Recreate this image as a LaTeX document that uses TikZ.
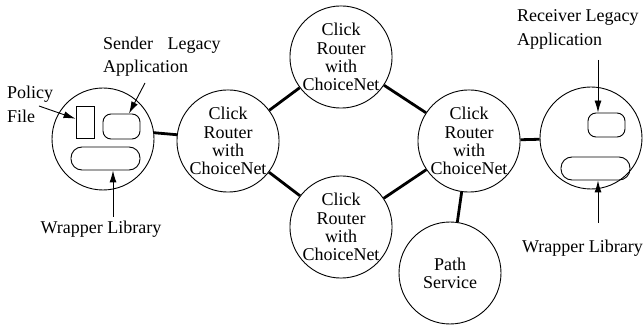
\documentclass[tikz,border=0pt]{standalone}
\usepackage{fontspec}
\setmainfont{Liberation Serif}
\usetikzlibrary{arrows.meta}

\begin{document}
\begin{tikzpicture}[x=1pt, y=-1pt, >={Latex[length=12pt,width=7pt]},
  every node/.style={font=\fontsize{18}{18.3}\selectfont},
  router/.style={draw, circle, minimum size=102pt, inner sep=0pt, align=center, line width=0.9pt},
  box/.style={draw, rounded corners=8pt, line width=0.9pt, inner sep=0pt},
  lbl/.style={align=left, anchor=west, inner sep=0pt, font=\fontsize{18}{23.5}\selectfont},
  link/.style={line width=2.8pt},
  arr/.style={->, line width=0.9pt}]

\useasboundingbox (0,0) rectangle (643,331);

% hosts
\node[router] (shost) at (103,139) {};
\node[router] (rhost) at (591,138) {};

% routers
\node[router] (r1) at (228,141) {Click\\Router\\with\\ChoiceNet};
\node[router] (r2) at (341,57) {Click\\Router\\with\\ChoiceNet};
\node[router] (r3) at (341,227) {Click\\Router\\with\\ChoiceNet};
\node[router] (r4) at (469,141) {Click\\Router\\with\\ChoiceNet};
\node[router] (ps) at (450,273) {Path\\Service};

% links
\draw[link] (shost.7) -- (r1.173);
\draw[link] (r4) -- (rhost);
\foreach \a/\b in {r1/r2, r1/r3, r2/r4, r3/r4, r4/ps} {
  \draw[link] (\a) -- (\b);
}

% sender side
\node[draw, line width=0.9pt, minimum width=18pt, minimum height=32pt, inner sep=0pt] (policy) at (85,122) {};
\node[box, minimum width=37pt, minimum height=25pt] (sapp) at (121.5,126.5) {};
\node[box, rounded corners=11pt, minimum width=69pt, minimum height=23pt] (slib) at (105.5,158.5) {};

\node[lbl] (policylbl) at (7,104.5) {Policy\\File};
\node[lbl] (senderlbl) at (103,56.5) {Sender\hspace{10pt} Legacy\\Application};
\node[inner sep=0pt] (slibl) at (101,229) {Wrapper Library};

\coordinate (pa) at (39,106);
\coordinate (sa) at (145,83);
\coordinate (wa) at (113,217);
\draw[arr] (pa) -- (policy);
\draw[arr] (sa) -- (sapp.60);
\draw[arr] (wa) -- (wa |- slib.south);

% receiver side
\node[box, minimum width=37pt, minimum height=24pt] (rapp) at (606.5,125) {};
\node[box, rounded corners=11pt, minimum width=69pt, minimum height=23pt] (rlib) at (595.5,168.5) {};

\node[lbl] (receiverlbl) at (517,29.5) {Receiver Legacy\\Application};
\node[inner sep=0pt] (rlibl) at (582.5,248) {Wrapper Library};

\coordinate (ra) at (598,60);
\coordinate (rw) at (598,223);
\draw[arr] (ra) -- (ra |- rapp.north);
\draw[arr] (rw) -- (rw |- rlib.south);

\end{tikzpicture}
\end{document}
